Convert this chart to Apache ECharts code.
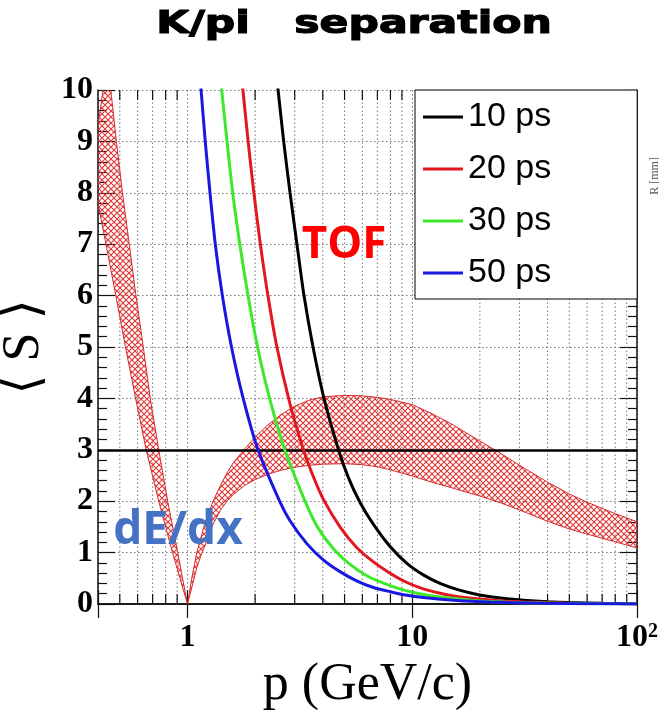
<!DOCTYPE html>
<html><head><meta charset="utf-8">
<script src="https://cdn.jsdelivr.net/npm/echarts@6.0.0/dist/echarts.min.js"></script>
<style>html,body{margin:0;padding:0;background:#fff}#c{width:659px;height:710px}</style>
</head><body><div id="c"></div>
<script>
// ---- axis / tick definitions ----
const xMin = 0.4, xMax = 100;
const yMin = 0, yMax = 10;
const xMinorTicks = [0.5,0.6,0.7,0.8,0.9,2,3,4,5,6,7,8,9,20,30,40,50,60,70,80,90];
const legendNames = ['10 ps','20 ps','30 ps','50 ps'];
const threshold = 3;

// ---- TOF curves (p in GeV/c, separation S) ----
const tof10P = [2.45,2.53,2.68,2.86,3.07,3.3,3.62,4.05,4.7,5.2,5.9,6.72,7.97,9.47,11.2,13.3,15.8,18.8,22.3,26.4,31.3,40,50,70,100];
const tof10S = [10.55,10,9,8,7,6,5,4,3,2.46,1.95,1.55,1.12,0.79,0.566,0.40,0.284,0.2,0.143,0.102,0.072,0.044,0.028,0.0145,0.007];
const tof20P = [1.70,1.765,1.86,1.97,2.10,2.26,2.5,2.85,3.3,3.63,4.02,4.77,5.66,6.72,7.97,9.47,11.2,13.3,15.8,18.8,22.3,26.4,31.3,40,50,70,100];
const tof20S = [10.8,10,9.02,8.04,7.07,6.11,5,3.92,2.97,2.48,2.04,1.5,1.1,0.82,0.6,0.418,0.295,0.21,0.148,0.105,0.076,0.055,0.04,0.025,0.016,0.008,0.004];
const tof30P = [1.38,1.42,1.50,1.59,1.71,1.86,2.05,2.32,2.71,3.3,3.76,4.45,5.29,6.28,7.4,8.8,10.5,13.3,18.8,26.4,37,50,70,100];
const tof30S = [10.6,10,9,8,7,6,5,4,3,2.05,1.52,1.08,0.77,0.55,0.41,0.295,0.21,0.135,0.07,0.036,0.019,0.011,0.006,0.003];
const tof50P = [1.12,1.15,1.20,1.26,1.33,1.43,1.57,1.77,2.06,2.57,2.85,3.39,4.02,4.77,5.66,6.72,7.97,9.47,11.2,15.8,22.3,37,50,70,100];
const tof50S = [10.6,10,9,8,7,6,5,4,3,2,1.63,1.18,0.86,0.63,0.45,0.32,0.24,0.17,0.125,0.068,0.038,0.015,0.008,0.004,0.002];

// ---- dE/dx band boundaries ----
const dedxLeftUpperP = [0.44,0.456,0.483,0.514,0.551,0.59,0.636,0.683,0.745,0.817,0.905,1.0];
const dedxLeftUpperS = [10.6,10,9,8,7,6,5,4,3,2,1,0];
const dedxLeftLowerP = [0.38,0.40,0.434,0.48,0.53,0.588,0.655,0.745,0.858,1.0];
const dedxLeftLowerS = [8.6,7.8,7,6,5,4,3,2,1,0];
const dedxRightUpperP = [1.0,1.05,1.1,1.2,1.3,1.4,1.5,1.6,1.8,2.0,2.3,2.6,3.0,3.5,4.0,5.0,6.0,7.0,8.0,10,12,15,20,25,30,40,50,60,70,80,100];
const dedxRightUpperS = [0,0.55,1.0,1.6,2.0,2.3,2.55,2.75,3.02,3.25,3.5,3.68,3.85,3.97,4.03,4.06,4.05,4.02,3.98,3.88,3.72,3.5,3.17,2.92,2.7,2.37,2.14,1.98,1.86,1.76,1.6];
const dedxRightLowerP = [1.0,1.05,1.1,1.15,1.2,1.3,1.4,1.5,1.6,1.8,2.0,2.3,2.6,3.0,3.5,4.0,5.0,6.0,7.0,8.0,10,12,15,20,25,30,40,50,60,70,80,100];
const dedxRightLowerS = [0,0.35,0.7,0.95,1.15,1.55,1.82,2.0,2.13,2.31,2.42,2.53,2.6,2.66,2.7,2.72,2.73,2.71,2.67,2.61,2.49,2.38,2.26,2.1,1.96,1.83,1.61,1.46,1.36,1.28,1.21,1.09];

const zip = (a, b) => a.map((v, i) => [v, b[i]]);

// hatch pattern
const pat = document.createElement('canvas');
pat.width = 6; pat.height = 6;
(function(){
  const g = pat.getContext('2d');
  g.strokeStyle = '#e23636'; g.lineWidth = 1.1;
  g.beginPath();
  g.moveTo(-1,-1); g.lineTo(7,7);
  g.moveTo(7,-1); g.lineTo(-1,7);
  g.stroke();
})();

const frameColor = '#111';
const gridLine = {show:true, lineStyle:{color:'#777', type:[1.5,2.5], width:1}};

function isPow10(v){ const l = Math.log10(v); return Math.abs(l - Math.round(l)) < 1e-6; }

const chart = echarts.init(document.getElementById('c'), null, {renderer:'canvas'});

const lineSeries = (name, P, S, color) => ({
  type:'line', name, data: zip(P, S), xAxisIndex:0, yAxisIndex:0,
  symbol:'none', showSymbol:false, smooth:0.25, clip:true, z:5,
  lineStyle:{color, width:3}, itemStyle:{color}, silent:true
});

const option = {
  animation:false,
  grid:{left:98, right:22, top:90, bottom:106, containLabel:false, outerBoundsMode:'none'},
  legend:{
    data: legendNames.map(n => ({name:n, icon:'rect'})), orient:'vertical', left:415, top:90,
    padding:[7,86,6,8], itemWidth:40, itemHeight:3, itemGap:12,
    backgroundColor:'#fff', borderColor:'#000', borderWidth:1, borderRadius:0,
    textStyle:{fontFamily:'Liberation Sans', fontSize:34, color:'#000', lineHeight:40},
    selectedMode:false, z:10
  },
  xAxis:[{
    type:'log', min:xMin, max:xMax, position:'bottom',
    axisLine:{show:true, lineStyle:{color:frameColor, width:1.5}},
    axisTick:{show:true, inside:true, length:14, lineStyle:{color:frameColor, width:1.2}},
    axisLabel:{
      margin:18, color:'#000',
      formatter: v => {
        if (!isPow10(v)) return '';
        const e = Math.round(Math.log10(v));
        if (e === 0) return '{m|1}';
        if (e === 1) return '{m|10}';
        return '{m|10}{s|' + e + '}';
      },
      rich:{
        m:{fontFamily:'Liberation Serif', fontWeight:'bold', fontSize:32, color:'#000'},
        s:{fontFamily:'Liberation Serif', fontWeight:'bold', fontSize:20, color:'#000', verticalAlign:'top'}
      }
    },
    splitLine:gridLine,
    name:'p (GeV/c)', nameLocation:'middle', nameGap:40,
    nameTextStyle:{fontFamily:'Liberation Serif', fontSize:52, color:'#000'}
  },{
    type:'log', min:xMin, max:xMax, position:'top',
    axisLine:{show:true, lineStyle:{color:frameColor, width:1.5}},
    axisTick:{show:true, inside:true, length:14, lineStyle:{color:frameColor, width:1.2}},
    axisLabel:{show:false}, splitLine:{show:false}
  }],
  yAxis:[{
    type:'value', min:yMin, max:yMax, interval:1, position:'left',
    axisLine:{show:true, lineStyle:{color:frameColor, width:1.5}},
    axisTick:{show:true, inside:true, length:17, lineStyle:{color:frameColor, width:1.2}},
    minorTick:{show:true, splitNumber:5, length:9, lineStyle:{color:frameColor, width:1.2}},
    axisLabel:{fontFamily:'Liberation Serif', fontWeight:'bold', fontSize:32, color:'#000', margin:5},
    splitLine:gridLine,
    name:'⟨ S ⟩', nameLocation:'middle', nameGap:40, nameRotate:90,
    nameTextStyle:{fontFamily:'Liberation Serif, DejaVu Serif', fontSize:52, color:'#000'}
  },{
    type:'value', min:yMin, max:yMax, interval:1, position:'right',
    axisLine:{show:true, lineStyle:{color:frameColor, width:1.5}},
    axisTick:{show:true, inside:true, length:17, lineStyle:{color:frameColor, width:1.2}},
    minorTick:{show:true, splitNumber:5, length:9, lineStyle:{color:frameColor, width:1.2}},
    axisLabel:{show:false}, splitLine:{show:false}
  }],
  graphic:[
    {type:'text', x:354, y:25, scaleX:1.33, z:20,
     style:{text:'K/pi   separation', fontFamily:'DejaVu Sans', fontWeight:'bold', fontSize:32, fill:'#000', stroke:'#000', lineWidth:1.2, align:'center', verticalAlign:'middle'}},
    {type:'text', x:344, y:245, z:20,
     style:{text:'TOF', fontFamily:'Open Sans', fontWeight:'bold', fontSize:44, fill:'#ff0000', align:'center', verticalAlign:'middle'}},
    {type:'text', x:178, y:531, z:20,
     style:{text:'dE/dx', fontFamily:'Open Sans', fontWeight:'bold', fontSize:46, fill:'#4472c4', align:'center', verticalAlign:'middle'}},
    {type:'text', x:655, y:176, rotation:Math.PI/2, z:20,
     style:{text:'R [mm]', fontFamily:'Liberation Serif', fontSize:12, fill:'#555', align:'center', verticalAlign:'middle'}}
  ],
  series:[
    { // minor x grid lines and minor ticks (top & bottom)
      type:'custom', silent:true, xAxisIndex:0, yAxisIndex:0, z:1,
      data: xMinorTicks.map(v => [v, yMin]),
      renderItem:(params, api) => {
        const v = api.value(0);
        const pb = api.coord([v, yMin]); const pt = api.coord([v, yMax]);
        return {type:'group', children:[
          {type:'line', shape:{x1:pb[0], y1:pb[1], x2:pt[0], y2:pt[1]}, style:{stroke:'#777', lineWidth:1, lineDash:[1.5,2.5]}},
          {type:'line', shape:{x1:pb[0], y1:pb[1], x2:pb[0], y2:pb[1]-10}, style:{stroke:frameColor, lineWidth:1.2}},
          {type:'line', shape:{x1:pt[0], y1:pt[1], x2:pt[0], y2:pt[1]+10}, style:{stroke:frameColor, lineWidth:1.2}}
        ]};
      }
    },
    { // dE/dx band
      type:'custom', silent:true, xAxisIndex:0, yAxisIndex:0, z:2,
      data:[[1, 0]],
      renderItem:(params, api) => {
        const poly = (up, lo) => {
          const pts = up.map(d => api.coord(d));
          for (let i = lo.length - 1; i >= 0; i--) pts.push(api.coord(lo[i]));
          return pts;
        };
        const cs = params.coordSys;
        const st = {fill:{image:pat, repeat:'repeat'}, stroke:'#d92a2a', lineWidth:1};
        return {type:'group',
          clipPath:{type:'rect', shape:{x:cs.x, y:cs.y, width:cs.width, height:cs.height}},
          children:[
            {type:'polygon', shape:{points:poly(zip(dedxLeftUpperP, dedxLeftUpperS), zip(dedxLeftLowerP, dedxLeftLowerS))}, style:st},
            {type:'polygon', shape:{points:poly(zip(dedxRightUpperP, dedxRightUpperS), zip(dedxRightLowerP, dedxRightLowerS))}, style:st}
          ]};
      }
    },
    Object.assign(lineSeries(legendNames[0], tof10P, tof10S, '#000000'), {
      markLine:{silent:true, symbol:'none', label:{show:false}, z:4,
        lineStyle:{color:'#000', width:2.5, type:'solid'}, data:[{yAxis:threshold}]}
    }),
    lineSeries(legendNames[1], tof20P, tof20S, '#e3171d'),
    lineSeries(legendNames[2], tof30P, tof30S, '#3ee82a'),
    lineSeries(legendNames[3], tof50P, tof50S, '#1818e0')
  ]
};
chart.setOption(option);
</script>
</body></html>
